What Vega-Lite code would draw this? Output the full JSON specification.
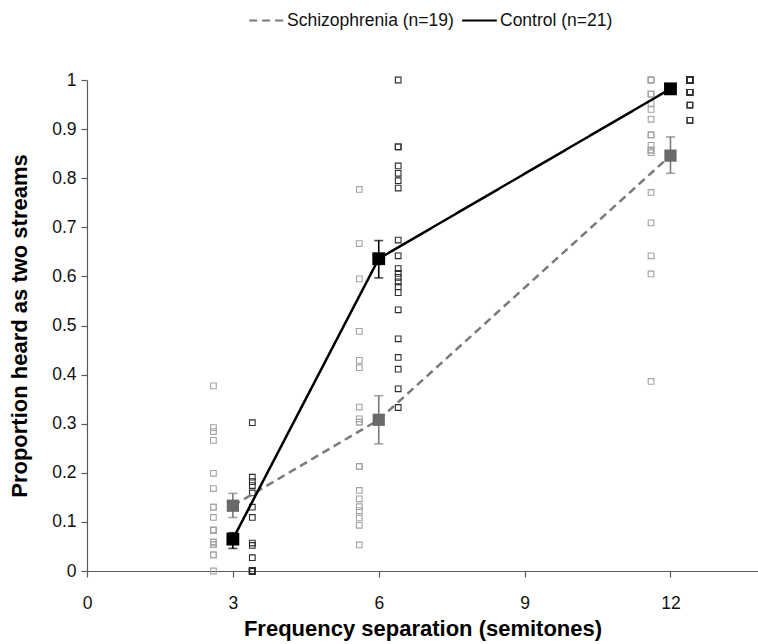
{
  "$schema": "https://vega.github.io/schema/vega-lite/v6.json",
  "autosize": {"type": "none"},
  "padding": {"left": 87, "top": 80, "right": 0, "bottom": 73},
  "width": 671,
  "height": 491,
  "background": "white",
  "config": {
    "view": {"stroke": null},
    "font": "Liberation Sans",
    "axis": {"grid": false, "domainColor": "#5a5a5a", "tickColor": "#5a5a5a", "labelFont": "Liberation Sans", "labelFontSize": 17.5, "labelColor": "#111", "titleFont": "Liberation Sans", "titleFontSize": 22, "titleFontWeight": "bold", "titleColor": "#000", "tickSize": 6, "domainWidth": 1.2, "tickWidth": 1.2}
  },
  "datasets": {
    "indiv": [
      {"group": "Schizophrenia (n=19)", "x": 2.6, "y": 0.377},
      {"group": "Schizophrenia (n=19)", "x": 2.6, "y": 0.292},
      {"group": "Schizophrenia (n=19)", "x": 2.6, "y": 0.284},
      {"group": "Schizophrenia (n=19)", "x": 2.6, "y": 0.266},
      {"group": "Schizophrenia (n=19)", "x": 2.6, "y": 0.199},
      {"group": "Schizophrenia (n=19)", "x": 2.6, "y": 0.168},
      {"group": "Schizophrenia (n=19)", "x": 2.6, "y": 0.130},
      {"group": "Schizophrenia (n=19)", "x": 2.6, "y": 0.130},
      {"group": "Schizophrenia (n=19)", "x": 2.6, "y": 0.109},
      {"group": "Schizophrenia (n=19)", "x": 2.6, "y": 0.083},
      {"group": "Schizophrenia (n=19)", "x": 2.6, "y": 0.083},
      {"group": "Schizophrenia (n=19)", "x": 2.6, "y": 0.083},
      {"group": "Schizophrenia (n=19)", "x": 2.6, "y": 0.059},
      {"group": "Schizophrenia (n=19)", "x": 2.6, "y": 0.059},
      {"group": "Schizophrenia (n=19)", "x": 2.6, "y": 0.054},
      {"group": "Schizophrenia (n=19)", "x": 2.6, "y": 0.054},
      {"group": "Schizophrenia (n=19)", "x": 2.6, "y": 0.033},
      {"group": "Schizophrenia (n=19)", "x": 2.6, "y": 0.033},
      {"group": "Schizophrenia (n=19)", "x": 2.6, "y": 0.0},
      {"group": "Control (n=21)", "x": 3.4, "y": 0.302},
      {"group": "Control (n=21)", "x": 3.4, "y": 0.191},
      {"group": "Control (n=21)", "x": 3.4, "y": 0.182},
      {"group": "Control (n=21)", "x": 3.4, "y": 0.174},
      {"group": "Control (n=21)", "x": 3.4, "y": 0.159},
      {"group": "Control (n=21)", "x": 3.4, "y": 0.130},
      {"group": "Control (n=21)", "x": 3.4, "y": 0.109},
      {"group": "Control (n=21)", "x": 3.4, "y": 0.057},
      {"group": "Control (n=21)", "x": 3.4, "y": 0.052},
      {"group": "Control (n=21)", "x": 3.4, "y": 0.027},
      {"group": "Control (n=21)", "x": 3.4, "y": 0.0},
      {"group": "Control (n=21)", "x": 3.4, "y": 0.0},
      {"group": "Control (n=21)", "x": 3.4, "y": 0.0},
      {"group": "Control (n=21)", "x": 3.4, "y": 0.0},
      {"group": "Control (n=21)", "x": 3.4, "y": 0.0},
      {"group": "Control (n=21)", "x": 3.4, "y": 0.0},
      {"group": "Control (n=21)", "x": 3.4, "y": 0.0},
      {"group": "Control (n=21)", "x": 3.4, "y": 0.0},
      {"group": "Control (n=21)", "x": 3.4, "y": 0.0},
      {"group": "Control (n=21)", "x": 3.4, "y": 0.0},
      {"group": "Control (n=21)", "x": 3.4, "y": 0.0},
      {"group": "Schizophrenia (n=19)", "x": 5.6, "y": 0.777},
      {"group": "Schizophrenia (n=19)", "x": 5.6, "y": 0.667},
      {"group": "Schizophrenia (n=19)", "x": 5.6, "y": 0.595},
      {"group": "Schizophrenia (n=19)", "x": 5.6, "y": 0.488},
      {"group": "Schizophrenia (n=19)", "x": 5.6, "y": 0.429},
      {"group": "Schizophrenia (n=19)", "x": 5.6, "y": 0.414},
      {"group": "Schizophrenia (n=19)", "x": 5.6, "y": 0.334},
      {"group": "Schizophrenia (n=19)", "x": 5.6, "y": 0.310},
      {"group": "Schizophrenia (n=19)", "x": 5.6, "y": 0.303},
      {"group": "Schizophrenia (n=19)", "x": 5.6, "y": 0.303},
      {"group": "Schizophrenia (n=19)", "x": 5.6, "y": 0.213},
      {"group": "Schizophrenia (n=19)", "x": 5.6, "y": 0.213},
      {"group": "Schizophrenia (n=19)", "x": 5.6, "y": 0.164},
      {"group": "Schizophrenia (n=19)", "x": 5.6, "y": 0.147},
      {"group": "Schizophrenia (n=19)", "x": 5.6, "y": 0.131},
      {"group": "Schizophrenia (n=19)", "x": 5.6, "y": 0.123},
      {"group": "Schizophrenia (n=19)", "x": 5.6, "y": 0.108},
      {"group": "Schizophrenia (n=19)", "x": 5.6, "y": 0.093},
      {"group": "Schizophrenia (n=19)", "x": 5.6, "y": 0.053},
      {"group": "Control (n=21)", "x": 6.4, "y": 1.0},
      {"group": "Control (n=21)", "x": 6.4, "y": 0.864},
      {"group": "Control (n=21)", "x": 6.4, "y": 0.864},
      {"group": "Control (n=21)", "x": 6.4, "y": 0.825},
      {"group": "Control (n=21)", "x": 6.4, "y": 0.81},
      {"group": "Control (n=21)", "x": 6.4, "y": 0.795},
      {"group": "Control (n=21)", "x": 6.4, "y": 0.78},
      {"group": "Control (n=21)", "x": 6.4, "y": 0.674},
      {"group": "Control (n=21)", "x": 6.4, "y": 0.642},
      {"group": "Control (n=21)", "x": 6.4, "y": 0.616},
      {"group": "Control (n=21)", "x": 6.4, "y": 0.606},
      {"group": "Control (n=21)", "x": 6.4, "y": 0.598},
      {"group": "Control (n=21)", "x": 6.4, "y": 0.589},
      {"group": "Control (n=21)", "x": 6.4, "y": 0.579},
      {"group": "Control (n=21)", "x": 6.4, "y": 0.567},
      {"group": "Control (n=21)", "x": 6.4, "y": 0.532},
      {"group": "Control (n=21)", "x": 6.4, "y": 0.473},
      {"group": "Control (n=21)", "x": 6.4, "y": 0.435},
      {"group": "Control (n=21)", "x": 6.4, "y": 0.411},
      {"group": "Control (n=21)", "x": 6.4, "y": 0.371},
      {"group": "Control (n=21)", "x": 6.4, "y": 0.333},
      {"group": "Schizophrenia (n=19)", "x": 11.6, "y": 1.0},
      {"group": "Schizophrenia (n=19)", "x": 11.6, "y": 1.0},
      {"group": "Schizophrenia (n=19)", "x": 11.6, "y": 1.0},
      {"group": "Schizophrenia (n=19)", "x": 11.6, "y": 0.971},
      {"group": "Schizophrenia (n=19)", "x": 11.6, "y": 0.971},
      {"group": "Schizophrenia (n=19)", "x": 11.6, "y": 0.952},
      {"group": "Schizophrenia (n=19)", "x": 11.6, "y": 0.940},
      {"group": "Schizophrenia (n=19)", "x": 11.6, "y": 0.920},
      {"group": "Schizophrenia (n=19)", "x": 11.6, "y": 0.888},
      {"group": "Schizophrenia (n=19)", "x": 11.6, "y": 0.888},
      {"group": "Schizophrenia (n=19)", "x": 11.6, "y": 0.867},
      {"group": "Schizophrenia (n=19)", "x": 11.6, "y": 0.857},
      {"group": "Schizophrenia (n=19)", "x": 11.6, "y": 0.857},
      {"group": "Schizophrenia (n=19)", "x": 11.6, "y": 0.852},
      {"group": "Schizophrenia (n=19)", "x": 11.6, "y": 0.771},
      {"group": "Schizophrenia (n=19)", "x": 11.6, "y": 0.709},
      {"group": "Schizophrenia (n=19)", "x": 11.6, "y": 0.642},
      {"group": "Schizophrenia (n=19)", "x": 11.6, "y": 0.605},
      {"group": "Schizophrenia (n=19)", "x": 11.6, "y": 0.386},
      {"group": "Control (n=21)", "x": 12.4, "y": 1.0},
      {"group": "Control (n=21)", "x": 12.4, "y": 1.0},
      {"group": "Control (n=21)", "x": 12.4, "y": 1.0},
      {"group": "Control (n=21)", "x": 12.4, "y": 1.0},
      {"group": "Control (n=21)", "x": 12.4, "y": 1.0},
      {"group": "Control (n=21)", "x": 12.4, "y": 1.0},
      {"group": "Control (n=21)", "x": 12.4, "y": 1.0},
      {"group": "Control (n=21)", "x": 12.4, "y": 1.0},
      {"group": "Control (n=21)", "x": 12.4, "y": 1.0},
      {"group": "Control (n=21)", "x": 12.4, "y": 1.0},
      {"group": "Control (n=21)", "x": 12.4, "y": 1.0},
      {"group": "Control (n=21)", "x": 12.4, "y": 1.0},
      {"group": "Control (n=21)", "x": 12.4, "y": 0.975},
      {"group": "Control (n=21)", "x": 12.4, "y": 0.975},
      {"group": "Control (n=21)", "x": 12.4, "y": 0.975},
      {"group": "Control (n=21)", "x": 12.4, "y": 0.975},
      {"group": "Control (n=21)", "x": 12.4, "y": 0.975},
      {"group": "Control (n=21)", "x": 12.4, "y": 0.949},
      {"group": "Control (n=21)", "x": 12.4, "y": 0.949},
      {"group": "Control (n=21)", "x": 12.4, "y": 0.918},
      {"group": "Control (n=21)", "x": 12.4, "y": 0.918}
    ],
    "means": [
      {"group": "Schizophrenia (n=19)", "x": 3, "mean": 0.133, "lo": 0.109, "hi": 0.158},
      {"group": "Schizophrenia (n=19)", "x": 6, "mean": 0.308, "lo": 0.259, "hi": 0.357},
      {"group": "Schizophrenia (n=19)", "x": 12, "mean": 0.846, "lo": 0.81, "hi": 0.884},
      {"group": "Control (n=21)", "x": 3, "mean": 0.065, "lo": 0.046, "hi": 0.078},
      {"group": "Control (n=21)", "x": 6, "mean": 0.636, "lo": 0.597, "hi": 0.673},
      {"group": "Control (n=21)", "x": 12, "mean": 0.982, "lo": 0.974, "hi": 0.99}
    ]
  },
  "layer": [
    {
      "data": {"name": "indiv"},
      "transform": [{"filter": "datum.group === 'Schizophrenia (n=19)'"}],
      "mark": {"type": "square", "filled": false, "size": 32, "strokeWidth": 1.1, "color": "#a3a3a3", "opacity": 1},
      "encoding": {
        "x": {"field": "x", "type": "quantitative", "scale": {"domain": [0, 13.8], "nice": false, "zero": false},
          "axis": {"values": [0, 3, 6, 9, 12], "title": "Frequency separation (semitones)", "labelPadding": 17, "titlePadding": 7, "labelFlush": false}},
        "y": {"field": "y", "type": "quantitative", "scale": {"domain": [0, 1], "nice": false},
          "axis": {"values": [0, 0.1, 0.2, 0.3, 0.4, 0.5, 0.6, 0.7, 0.8, 0.9, 1], "format": ".1~f", "title": "Proportion heard as two streams", "labelPadding": 5, "titlePadding": 20}}
      }
    },
    {
      "data": {"name": "indiv"},
      "transform": [{"filter": "datum.group === 'Control (n=21)'"}],
      "mark": {"type": "square", "filled": false, "size": 32, "strokeWidth": 1.1, "color": "#2e2e2e", "opacity": 1},
      "encoding": {
        "x": {"field": "x", "type": "quantitative"},
        "y": {"field": "y", "type": "quantitative"}
      }
    },
    {
      "data": {"name": "means"},
      "mark": {"type": "line", "strokeWidth": 2.5},
      "encoding": {
        "x": {"field": "x", "type": "quantitative"},
        "y": {"field": "mean", "type": "quantitative"},
        "color": {"field": "group", "type": "nominal", "scale": {"domain": ["Schizophrenia (n=19)", "Control (n=21)"], "range": ["#7a7a7a", "#000000"]},
          "legend": {"orient": "none", "legendX": 161, "legendY": -78, "direction": "horizontal", "title": null, "symbolType": "stroke", "symbolSize": 1200, "symbolStrokeWidth": 2, "labelFont": "Liberation Sans", "labelFontSize": 17.5, "labelColor": "#111", "labelOffset": 2, "labelLimit": 400, "columnPadding": 4}},
        "strokeDash": {"field": "group", "type": "nominal", "scale": {"domain": ["Schizophrenia (n=19)", "Control (n=21)"], "range": [[8, 5], [1, 0]]}}
      }
    },
    {
      "data": {"name": "means"},
      "transform": [{"filter": "datum.group === 'Schizophrenia (n=19)'"}],
      "encoding": {"x": {"field": "x", "type": "quantitative"}},
      "layer": [
        {"mark": {"type": "rule", "color": "#7a7a7a", "strokeWidth": 1.6}, "encoding": {"y": {"field": "lo", "type": "quantitative"}, "y2": {"field": "hi"}}},
        {"mark": {"type": "tick", "orient": "horizontal", "color": "#7a7a7a", "size": 9, "thickness": 1.6}, "encoding": {"y": {"field": "lo", "type": "quantitative"}}},
        {"mark": {"type": "tick", "orient": "horizontal", "color": "#7a7a7a", "size": 9, "thickness": 1.6}, "encoding": {"y": {"field": "hi", "type": "quantitative"}}},
        {"mark": {"type": "square", "filled": true, "color": "#6a6a6a", "size": 150, "opacity": 1}, "encoding": {"y": {"field": "mean", "type": "quantitative"}}}
      ]
    },
    {
      "data": {"name": "means"},
      "transform": [{"filter": "datum.group === 'Control (n=21)'"}],
      "encoding": {"x": {"field": "x", "type": "quantitative"}},
      "layer": [
        {"mark": {"type": "rule", "color": "#000", "strokeWidth": 1.6}, "encoding": {"y": {"field": "lo", "type": "quantitative"}, "y2": {"field": "hi"}}},
        {"mark": {"type": "tick", "orient": "horizontal", "color": "#000", "size": 9, "thickness": 1.6}, "encoding": {"y": {"field": "lo", "type": "quantitative"}}},
        {"mark": {"type": "tick", "orient": "horizontal", "color": "#000", "size": 9, "thickness": 1.6}, "encoding": {"y": {"field": "hi", "type": "quantitative"}}},
        {"mark": {"type": "square", "filled": true, "color": "#000", "size": 165, "opacity": 1}, "encoding": {"y": {"field": "mean", "type": "quantitative"}}}
      ]
    }
  ]
}
